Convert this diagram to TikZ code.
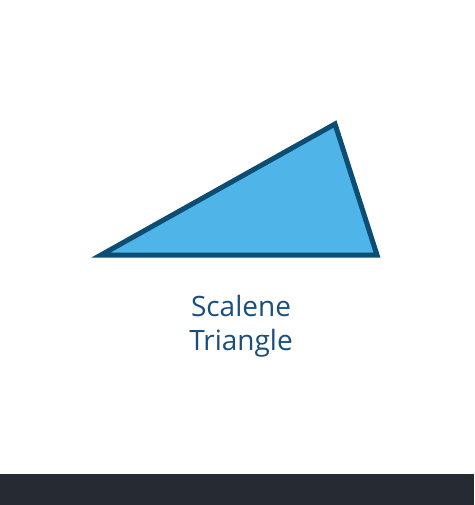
\documentclass[tikz,border=0pt]{standalone}
\usepackage{fontspec}
\setmainfont{Open Sans}
\definecolor{trifill}{HTML}{4FB4E8}
\definecolor{triedge}{HTML}{0C4D74}
\definecolor{labelblue}{HTML}{1A4F7C}
\definecolor{barcol}{HTML}{262A33}
\tikzset{
  tri/.style={fill=trifill,draw=triedge,line width=5pt,line join=miter},
  lbl/.style={text=labelblue,font=\fontsize{28}{34}\selectfont,align=center,inner sep=0pt}
}
\begin{document}
\begin{tikzpicture}[x=1pt,y=-1pt]
\useasboundingbox (0,0) rectangle (474,505);
\fill[white] (0,0) rectangle (474,505);
\coordinate (A) at (101,255);
\coordinate (B) at (335,124);
\coordinate (C) at (377,255);
\draw[tri] (A) -- (B) -- (C) -- cycle;
\node[lbl,anchor=base] (t1) at (241,316) {Scalene};
\node[lbl,anchor=base] (t2) at (241,350) {Triangle};
\fill[barcol] (0,474) rectangle (474,505);
\end{tikzpicture}
\end{document}
